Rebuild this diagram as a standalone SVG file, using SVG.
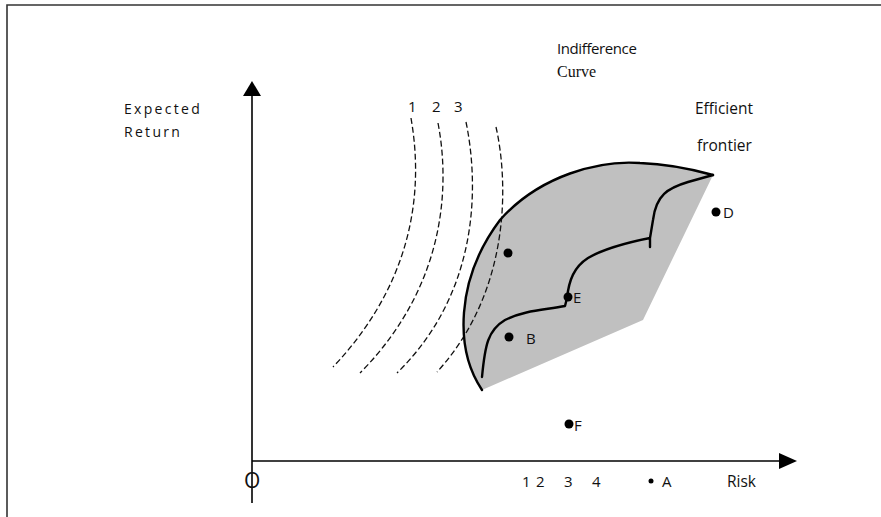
<svg xmlns="http://www.w3.org/2000/svg" width="881" height="517" viewBox="0 0 881 517">
<style>
.sans{font-family:"Open Sans","Liberation Sans",sans-serif;fill:#111}
.serif{font-family:"Liberation Serif",serif;fill:#111}
.dash{fill:none;stroke:#111;stroke-width:1.3;stroke-dasharray:6,3}
.thick{fill:none;stroke:#000;stroke-width:2.4;stroke-linecap:round;stroke-linejoin:round}
.axis{stroke:#000;stroke-width:1.6}
.lbl{font-size:15px}
</style>
<rect width="881" height="517" fill="#fff"/>
<g id="frame"><path d="M7,517 V5 H881" fill="none" stroke="#333" stroke-width="1.6"/></g>
<g id="feasible-set">
<path d="M482,390 C455,350 455,280 500,220 C540,175 600,160 640,163 C670,164 695,170 713,175 L643,320 Z" fill="#c0c0c0"/>
</g>
<g id="connectors">
<line class="axis" x1="252" y1="95" x2="252" y2="503"/>
<polygon points="252,81 243,96 261,96" fill="#000"/>
<line class="axis" x1="252" y1="461" x2="781" y2="461"/>
<polygon points="797,461 779,453 779,469" fill="#000"/>
<path class="dash" d="M411,118 C420,170 425,270 333,367"/>
<path class="dash" d="M438,123 C448,175 452,280 360,373"/>
<path class="dash" d="M466,122 C478,180 482,290 397,373"/>
<path class="dash" d="M496,127 C508,180 512,290 437,372"/>
<path class="thick" d="M482,390 C455,350 455,280 500,220 C540,175 600,160 640,163 C670,164 695,170 713,175"/>
<path class="thick" d="M482,377 C485,345 488,330 505,320 C525,310 545,310 565,306 L567,298 C569,280 574,267 588,258 C605,248 630,242 650,238 L650,247 M650,238 L653,220 C656,195 668,188 688,182 L713,175"/>
</g>
<g id="points" fill="#000">
<circle cx="508" cy="253" r="4.5"/>
<circle cx="509" cy="337" r="4.5"/>
<circle cx="568" cy="297" r="4.5"/>
<circle cx="716" cy="212" r="4.5"/>
<circle cx="569" cy="424" r="4.5"/>
<circle cx="651" cy="481" r="2.5"/>
</g>
<g id="labels">
<text class="sans" x="124" y="114" font-size="14" letter-spacing="2.3">Expected</text>
<text class="sans" x="124" y="137" font-size="14" letter-spacing="2.3">Return</text>
<text class="sans" x="557" y="54" font-size="15" letter-spacing="-0.4">Indifference</text>
<text class="serif" x="557" y="77" font-size="16">Curve</text>
<text class="sans" x="695" y="114" font-size="15.5">Efficient</text>
<text class="sans" x="697" y="151" font-size="15.5">frontier</text>
<text class="sans lbl" x="408" y="112">1</text>
<text class="sans lbl" x="432" y="112">2</text>
<text class="sans lbl" x="454" y="112">3</text>
<text class="sans lbl" x="526" y="344">B</text>
<text class="sans lbl" x="573" y="303">E</text>
<text class="sans lbl" x="723" y="218">D</text>
<text class="sans lbl" x="574" y="431">F</text>
<text class="sans lbl" x="662" y="487">A</text>
<text class="sans" x="727" y="487" font-size="15.5">Risk</text>
<text class="sans lbl" x="522" y="487">1</text>
<text class="sans lbl" x="536" y="487">2</text>
<text class="sans lbl" x="564" y="487">3</text>
<text class="sans lbl" x="592" y="487">4</text>
<text class="sans" x="244" y="488" font-size="21">O</text>
</g>
</svg>
